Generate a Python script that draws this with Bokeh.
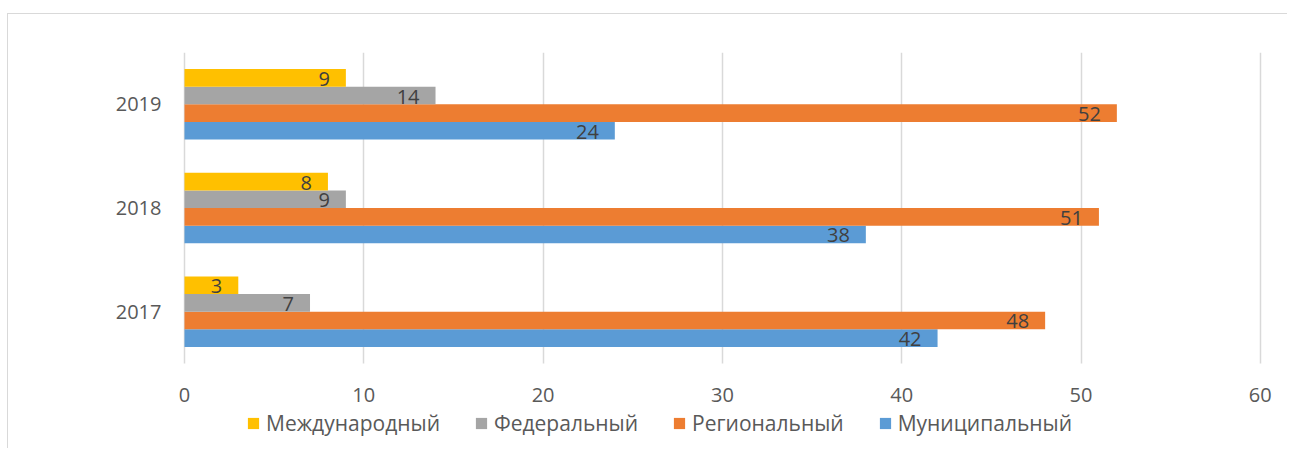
from bokeh.plotting import figure
from bokeh.models import (ColumnDataSource, FixedTicker, Legend, LegendItem,
                          Range1d, Grid)
from bokeh.transform import dodge
from bokeh.core.properties import value
from bokeh.embed import file_html
from bokeh.resources import INLINE

years = ["2017", "2018", "2019"]
municipal = [42, 38, 24]
regional = [48, 51, 52]
federal = [7, 9, 14]
international = [3, 8, 9]
x_ticks = [0, 10, 20, 30, 40, 50, 60]

series = [
    ("Муниципальный", "mun", municipal, "#5B9BD5", -0.255),
    ("Региональный", "reg", regional, "#ED7D31", -0.085),
    ("Федеральный", "fed", federal, "#A5A5A5", 0.085),
    ("Международный", "intl", international, "#FFC000", 0.255),
]
legend_order = ["Международный", "Федеральный", "Региональный", "Муниципальный"]

FONT = "Open Sans"

# layout (pixels)
W, H = 1280, 435
TOP, LEFT, RIGHT, BOTTOM = 38, 164, 12, 0
ZERO_PX = 176          # where value 0 sits, from the figure's left edge
PX_PER_UNIT = 17.93
PX_PER_CAT = 103.67
frame_h = H - TOP - BOTTOM
frame_w = W - LEFT - RIGHT
n = len(years)
y_end = n + 0.5
y_start = y_end - frame_h / PX_PER_CAT
x_start = -(ZERO_PX - LEFT) / PX_PER_UNIT
x_end = x_start + frame_w / PX_PER_UNIT

p = figure(
    width=W, height=H,
    x_range=Range1d(x_start, x_end), y_range=Range1d(y_start, y_end),
    output_backend="svg", toolbar_location=None,
    min_border_left=LEFT, min_border_right=RIGHT,
    min_border_top=TOP, min_border_bottom=BOTTOM,
)
p.styles = {"margin-left": "7px", "margin-top": "13px",
            "border-top": "1px solid #d9d9d9", "border-left": "1px solid #d9d9d9"}
p.outline_line_color = None
p.background_fill_color = "white"
p.border_fill_color = "white"

ypos = [i + 1 for i in range(n)]
data = dict(y=ypos)
for name, key, vals, color, off in series:
    data[key] = vals
    data[key + "_l"] = [str(v) for v in vals]
src = ColumnDataSource(data)

renderers = {}
for name, key, vals, color, off in series:
    r = p.hbar(y=dodge("y", off), right=key, left=0, height=0.17,
               source=src, fill_color=color, line_color=None)
    renderers[name] = r
    p.text(x=key, y=dodge("y", off), text=key + "_l", source=src,
           text_align="right", text_baseline="middle", x_offset=-16, y_offset=1,
           text_font=value(FONT), text_font_size="20px", text_color="#404040")

# x axis fixed at the bottom of the category area
p.xaxis.fixed_location = 0.5
p.xaxis.ticker = FixedTicker(ticks=x_ticks)
p.xaxis.axis_line_color = None
p.xaxis.major_tick_line_color = None
p.xaxis.minor_tick_line_color = None
p.xaxis.major_label_standoff = 18
p.xaxis.major_label_text_font = FONT
p.xaxis.major_label_text_font_size = "20px"
p.xaxis.major_label_text_color = "#595959"

p.yaxis.ticker = FixedTicker(ticks=ypos)
p.yaxis.major_label_overrides = {yy: lab for yy, lab in zip(ypos, years)}
p.yaxis.axis_line_color = None
p.yaxis.major_tick_line_color = None
p.yaxis.minor_tick_line_color = None
p.yaxis.major_label_standoff = 5
p.yaxis.major_label_text_font = FONT
p.yaxis.major_label_text_font_size = "20px"
p.yaxis.major_label_text_color = "#595959"

p.ygrid.grid_line_color = None
if "cross_bounds" in Grid.properties():
    p.xgrid.ticker = FixedTicker(ticks=x_ticks)
    p.xgrid.grid_line_color = "#d9d9d9"
    p.xgrid.grid_line_width = 1.5
    p.xgrid.cross_bounds = (0.5, y_end)
else:
    p.xgrid.grid_line_color = None
    p.segment(x0=x_ticks, x1=x_ticks, y0=[0.5] * len(x_ticks),
              y1=[y_end] * len(x_ticks), line_color="#d9d9d9", line_width=1.5,
              level="underlay")

legend = Legend(
    items=[LegendItem(label=nm, renderers=[renderers[nm]]) for nm in legend_order],
    orientation="horizontal", location=(74, 12),
    glyph_width=14, glyph_height=14, label_standoff=6, spacing=34,
    padding=0, margin=0, border_line_color=None, background_fill_alpha=0,
    label_text_font=FONT, label_text_font_size="21px", label_text_color="#595959",
)
p.add_layout(legend, "center")

open("out.html", "w").write(file_html(p, INLINE))
